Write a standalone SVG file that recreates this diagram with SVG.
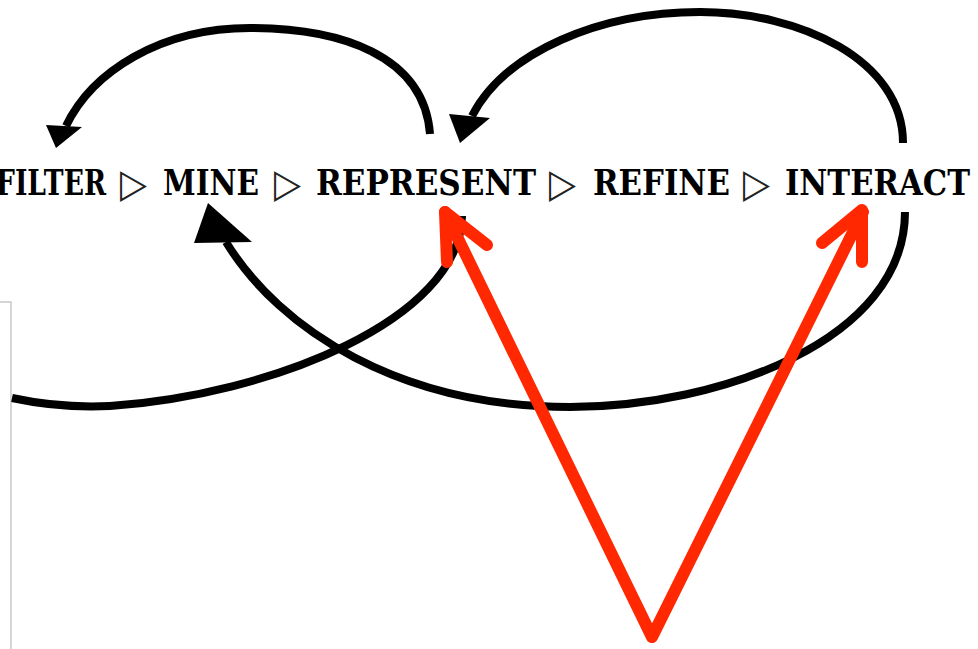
<svg xmlns="http://www.w3.org/2000/svg" width="978" height="649" viewBox="0 0 978 649">
<style>
.word{font-family:"DejaVu Serif","Liberation Serif",serif;font-weight:bold;font-size:35px;fill:#000}
.tri{font-family:"DejaVu Sans",sans-serif;font-size:40px;fill:#222}
.arc{fill:none;stroke:#000;stroke-width:8}
.head{fill:#000}
.red{fill:none;stroke:#FF2800;stroke-width:12;stroke-linecap:round;stroke-linejoin:round}
</style>
<rect width="978" height="649" fill="#fff"/>
<rect id="panel" x="-10" y="302" width="21" height="400" fill="#fff" stroke="#c8c8c8" stroke-width="1.5"/>
<g id="connectors">
  <path class="arc" d="M 430 134 C 424 55 340 28 250 28 C 160 28 92 72 66 126"/>
  <polygon class="head" points="46,125 82,127 56,148"/>
  <path class="arc" d="M 903 143 C 903 60 800 12 700 12 C 600 12 505 52 472 116"/>
  <polygon class="head" points="449,114 490,118 460,143"/>
  <path class="arc" d="M 462 216 C 460 320 270 395 110 406 C 70 408 40 404 12 398"/>
  <path class="arc" d="M 905 212 C 905 340 720 407 570 407 C 400 407 280 330 226 242"/>
  <polygon class="head" points="208,203 194,243 252,242"/>
  <polyline class="red" points="445,212 652,637 863,212"/>
  <polyline class="red" points="487,245 445,212 447,262"/>
  <polyline class="red" points="822,243 862,210 862,262"/>
</g>
<g id="filter"><text class="word" x="-4" y="195" textLength="110" lengthAdjust="spacingAndGlyphs">FILTER</text></g>
<g id="sep1"><text class="tri" x="120" y="197" textLength="27" lengthAdjust="spacingAndGlyphs">▷</text></g>
<g id="mine"><text class="word" x="163" y="195" textLength="96" lengthAdjust="spacingAndGlyphs">MINE</text></g>
<g id="sep2"><text class="tri" x="274" y="197" textLength="27" lengthAdjust="spacingAndGlyphs">▷</text></g>
<g id="represent"><text class="word" x="316" y="195" textLength="220" lengthAdjust="spacingAndGlyphs">REPRESENT</text></g>
<g id="sep3"><text class="tri" x="549" y="197" textLength="27" lengthAdjust="spacingAndGlyphs">▷</text></g>
<g id="refine"><text class="word" x="593" y="195" textLength="137" lengthAdjust="spacingAndGlyphs">REFINE</text></g>
<g id="sep4"><text class="tri" x="743" y="197" textLength="27" lengthAdjust="spacingAndGlyphs">▷</text></g>
<g id="interact"><text class="word" x="785" y="195" textLength="185" lengthAdjust="spacingAndGlyphs">INTERACT</text></g>
</svg>
